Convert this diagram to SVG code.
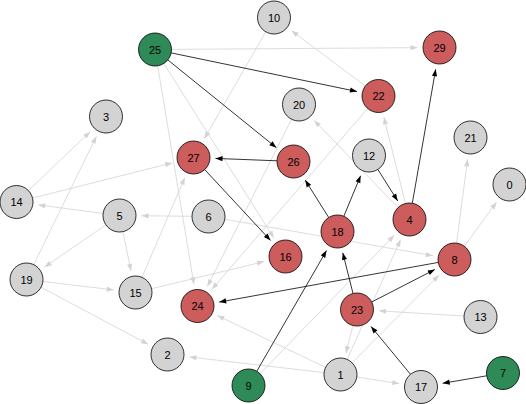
<svg xmlns="http://www.w3.org/2000/svg" width="526" height="404" viewBox="0 0 526 404">
<style>
.e{fill:none;stroke-width:0.8}
.k{stroke:#000;marker-end:url(#ak)}
.g{stroke:#d3d3d3;marker-end:url(#ag)}
circle{stroke:#000;stroke-width:0.8}
.gr{fill:#d3d3d3}.rd{fill:#cd5c5c}.gn{fill:#2e8b57}
text{font-family:"Liberation Sans",Arial,sans-serif;font-size:11px;text-anchor:middle;dominant-baseline:central;fill:#000}
</style>
<defs>
<marker id="ak" markerUnits="userSpaceOnUse" orient="auto" refX="0" refY="0" markerWidth="10" markerHeight="10" overflow="visible"><path d="M0,0 L-7,-2.6 L-7,2.6 Z" fill="#000"/></marker>
<marker id="ag" markerUnits="userSpaceOnUse" orient="auto" refX="0" refY="0" markerWidth="10" markerHeight="10" overflow="visible"><path d="M0,0 L-7,-2.6 L-7,2.6 Z" fill="#d3d3d3"/></marker>
</defs>
<rect width="526" height="404" fill="#fff"/>
<g id="edges">
<line class="e g" x1="171.5" y1="49.4" x2="417.5" y2="47.65"/>
<line class="e g" x1="365.3" y1="86.1" x2="291.6" y2="30.7"/>
<line class="e g" x1="265.8" y1="31.8" x2="204.5" y2="138.4"/>
<line class="e g" x1="157.7" y1="65.8" x2="193.9" y2="284.3"/>
<line class="e g" x1="163.8" y1="63.5" x2="273.8" y2="237.9"/>
<line class="e g" x1="28.4" y1="190.6" x2="90.1" y2="131.7"/>
<line class="e g" x1="33.7" y1="264.7" x2="96.4" y2="136.3"/>
<line class="e g" x1="32.5" y1="198.0" x2="172.2" y2="162.9"/>
<line class="e g" x1="142.0" y1="277.3" x2="184.8" y2="177.7"/>
<line class="e g" x1="103.1" y1="213.4" x2="38.3" y2="204.9"/>
<line class="e g" x1="105.9" y1="224.9" x2="44.6" y2="267.0"/>
<line class="e g" x1="122.9" y1="231.7" x2="131.0" y2="271.0"/>
<line class="e g" x1="192.0" y1="216.3" x2="141.5" y2="215.75"/>
<line class="e g" x1="224.8" y1="219.3" x2="432.8" y2="255.7"/>
<line class="e g" x1="42.9" y1="281.5" x2="113.7" y2="289.9"/>
<line class="e g" x1="41.1" y1="287.3" x2="148.1" y2="344.2"/>
<line class="e g" x1="151.5" y1="288.7" x2="264.1" y2="261.6"/>
<line class="e g" x1="324.1" y1="372.6" x2="189.4" y2="357.0"/>
<line class="e g" x1="325.6" y1="367.4" x2="217.3" y2="315.5"/>
<line class="e g" x1="356.8" y1="377.0" x2="399.3" y2="383.6"/>
<line class="e g" x1="352.1" y1="362.8" x2="439.0" y2="275.1"/>
<line class="e g" x1="347.2" y1="359.4" x2="400.6" y2="239.6"/>
<line class="e g" x1="260.0" y1="373.7" x2="394.2" y2="235.3"/>
<line class="e g" x1="352.9" y1="325.5" x2="345.9" y2="353.2"/>
<line class="e g" x1="464.0" y1="316.0" x2="379.0" y2="310.8"/>
<line class="e g" x1="456.6" y1="243.1" x2="467.6" y2="159.3"/>
<line class="e g" x1="464.3" y1="246.2" x2="496.5" y2="202.2"/>
<line class="e g" x1="405.5" y1="203.5" x2="383.9" y2="117.3"/>
<line class="e g" x1="398.1" y1="207.6" x2="314.2" y2="120.4"/>
<line class="e g" x1="291.6" y1="119.2" x2="207.4" y2="286.4"/>
<line class="e g" x1="367.7" y1="108.5" x2="211.9" y2="289.3"/>
<line class="e k" x1="171.2" y1="52.9" x2="357.0" y2="91.5"/>
<line class="e k" x1="167.8" y1="59.9" x2="276.4" y2="147.7"/>
<line class="e k" x1="277.0" y1="160.8" x2="215.5" y2="158.4"/>
<line class="e k" x1="204.7" y1="169.6" x2="270.5" y2="240.4"/>
<line class="e k" x1="328.7" y1="217.5" x2="305.2" y2="180.1"/>
<line class="e k" x1="343.8" y1="216.3" x2="360.6" y2="175.8"/>
<line class="e k" x1="377.8" y1="169.4" x2="397.7" y2="200.9"/>
<line class="e k" x1="412.3" y1="203.3" x2="435.7" y2="69.2"/>
<line class="e k" x1="438.3" y1="262.4" x2="219.2" y2="302.1"/>
<line class="e k" x1="371.7" y1="302.0" x2="434.9" y2="269.5"/>
<line class="e k" x1="353.0" y1="293.5" x2="342.8" y2="252.8"/>
<line class="e k" x1="256.8" y1="371.2" x2="326.5" y2="250.6"/>
<line class="e k" x1="410.5" y1="374.3" x2="371.0" y2="326.5"/>
<line class="e k" x1="486.7" y1="375.8" x2="442.7" y2="383.3"/>
</g>
<g id="n0"><circle class="gr" cx="509.5" cy="184.5" r="16.5"/><text x="509.5" y="184.5">0</text></g>
<g id="n1"><circle class="gr" cx="340.5" cy="374.5" r="16.5"/><text x="340.5" y="374.5">1</text></g>
<g id="n2"><circle class="gr" cx="167.5" cy="354.5" r="16.5"/><text x="167.5" y="354.5">2</text></g>
<g id="n3"><circle class="gr" cx="106" cy="116.5" r="16.5"/><text x="106" y="116.5">3</text></g>
<g id="n4"><circle class="rd" cx="409.5" cy="219.5" r="16.5"/><text x="409.5" y="219.5">4</text></g>
<g id="n5"><circle class="gr" cx="119.5" cy="215.5" r="16.5"/><text x="119.5" y="215.5">5</text></g>
<g id="n6"><circle class="gr" cx="208.5" cy="216.5" r="16.5"/><text x="208.5" y="216.5">6</text></g>
<g id="n7"><circle class="gn" cx="503" cy="373" r="16.5"/><text x="503" y="373">7</text></g>
<g id="n8"><circle class="rd" cx="454.5" cy="259.5" r="16.5"/><text x="454.5" y="259.5">8</text></g>
<g id="n9"><circle class="gn" cx="248.5" cy="385.5" r="16.5"/><text x="248.5" y="385.5">9</text></g>
<g id="n10"><circle class="gr" cx="274" cy="17.5" r="16.5"/><text x="274" y="17.5">10</text></g>
<g id="n12"><circle class="gr" cx="369" cy="155.5" r="16.5"/><text x="369" y="155.5">12</text></g>
<g id="n13"><circle class="gr" cx="480.5" cy="317" r="16.5"/><text x="480.5" y="317">13</text></g>
<g id="n14"><circle class="gr" cx="16.5" cy="202" r="16.5"/><text x="16.5" y="202">14</text></g>
<g id="n15"><circle class="gr" cx="135.5" cy="292.5" r="16.5"/><text x="135.5" y="292.5">15</text></g>
<g id="n16"><circle class="rd" cx="285.5" cy="256.5" r="16.5"/><text x="285.5" y="256.5">16</text></g>
<g id="n17"><circle class="gr" cx="421" cy="387" r="16.5"/><text x="421" y="387">17</text></g>
<g id="n18"><circle class="rd" cx="337.5" cy="231.5" r="16.5"/><text x="337.5" y="231.5">18</text></g>
<g id="n19"><circle class="gr" cx="26.5" cy="279.5" r="16.5"/><text x="26.5" y="279.5">19</text></g>
<g id="n20"><circle class="gr" cx="299" cy="104.5" r="16.5"/><text x="299" y="104.5">20</text></g>
<g id="n21"><circle class="gr" cx="470.5" cy="137.5" r="16.5"/><text x="470.5" y="137.5">21</text></g>
<g id="n22"><circle class="rd" cx="378.5" cy="96" r="16.5"/><text x="378.5" y="96">22</text></g>
<g id="n23"><circle class="rd" cx="357" cy="309.5" r="16.5"/><text x="357" y="309.5">23</text></g>
<g id="n24"><circle class="rd" cx="197.5" cy="306" r="16.5"/><text x="197.5" y="306">24</text></g>
<g id="n25"><circle class="gn" cx="155" cy="49.5" r="16.5"/><text x="155" y="49.5">25</text></g>
<g id="n26"><circle class="rd" cx="293.5" cy="161.5" r="16.5"/><text x="293.5" y="161.5">26</text></g>
<g id="n27"><circle class="rd" cx="193.5" cy="157.5" r="16.5"/><text x="193.5" y="157.5">27</text></g>
<g id="n29"><circle class="rd" cx="439.5" cy="47.5" r="16.5"/><text x="439.5" y="47.5">29</text></g>
</svg>
